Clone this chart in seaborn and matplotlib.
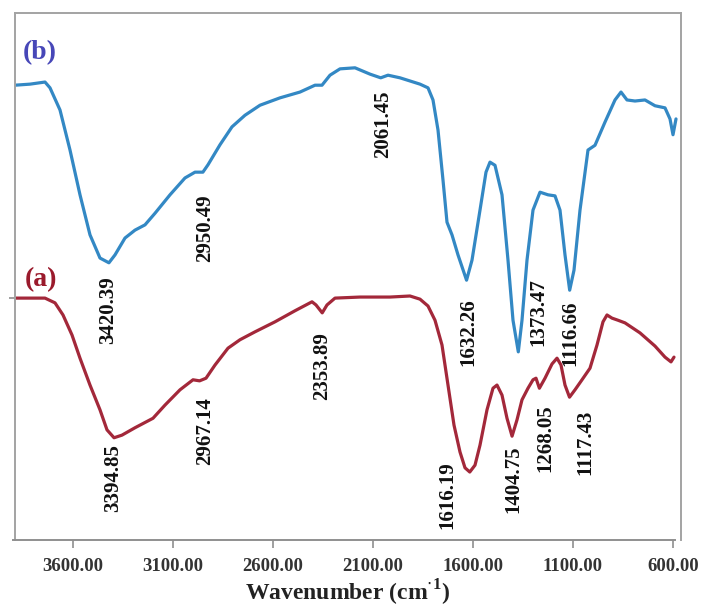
import matplotlib
matplotlib.use("Agg")
import matplotlib.pyplot as plt
import numpy as np
import pandas as pd
import seaborn as sns

# FTIR spectrum (b): wavenumber (cm-1) and transmittance (%)
wn_b = [3890, 3815, 3740, 3715, 3665, 3615, 3565, 3515, 3465, 3420.39, 3390, 3340,
        3290, 3240, 3190, 3115, 3040, 2990, 2950.49, 2925, 2865, 2805, 2740, 2665,
        2565, 2465, 2390, 2355, 2315, 2265, 2190, 2115, 2061.45, 2025, 1965, 1865,
        1825, 1800, 1775, 1750, 1730, 1705, 1675, 1632.26, 1605, 1565, 1535, 1515,
        1490, 1455, 1425, 1400, 1373.47, 1355, 1330, 1300, 1265, 1225, 1190, 1165,
        1140, 1116.66, 1095, 1065, 1025, 990, 940, 890, 860, 830, 790, 740, 690,
        640, 615, 600, 585]
tr_b = [86.3, 86.5, 86.9, 85.8, 81.6, 74.0, 65.5, 57.9, 53.5, 52.6, 54.1, 57.3,
        58.8, 59.8, 62.0, 65.5, 68.7, 69.8, 69.8, 71.2, 75.0, 78.4, 80.6, 82.5,
        83.9, 85.0, 86.3, 86.3, 88.2, 89.4, 89.6, 88.4, 87.7, 88.2, 87.7, 86.5,
        85.8, 83.5, 77.8, 68.3, 60.3, 57.9, 54.1, 49.3, 53.1, 62.6, 69.8, 71.7,
        71.1, 65.5, 53.1, 41.7, 35.7, 41.7, 53.1, 62.6, 66.0, 65.5, 65.3, 62.6,
        54.1, 47.4, 51.2, 62.6, 74.0, 74.9, 79.3, 83.5, 85.0, 83.5, 83.3, 83.5, 82.4,
        82.0, 79.9, 76.9, 79.9]

# FTIR spectrum (a)
wn_a = [3890, 3740, 3690, 3650, 3605, 3565, 3515, 3465, 3430, 3394.85, 3355, 3290,
        3200, 3140, 3065, 3000, 2967.14, 2935, 2890, 2825, 2765, 2690, 2590, 2490,
        2405, 2385, 2353.89, 2330, 2290, 2165, 2015, 1915, 1865, 1825, 1790, 1755,
        1725, 1695, 1665, 1640, 1616.19, 1590, 1565, 1530, 1500, 1480, 1455, 1430,
        1404.75, 1380, 1355, 1325, 1300, 1285, 1268.05, 1240, 1205, 1180, 1160, 1140,
        1117.43, 1090, 1055, 1015, 980, 950, 930, 905, 875, 840, 765, 690, 640, 610, 595]
tr_a = [45.9, 45.9, 45.0, 42.7, 38.9, 34.5, 29.4, 24.7, 20.9, 19.4, 19.9, 21.3,
        23.1, 25.6, 28.5, 30.4, 30.2, 30.7, 33.2, 36.4, 38.0, 39.5, 41.4, 43.5,
        45.2, 44.6, 43.1, 44.6, 45.9, 46.1, 46.1, 46.3, 45.7, 44.4, 41.7, 37.0,
        29.4, 21.8, 16.7, 13.7, 12.9, 14.2, 18.0, 24.7, 28.8, 29.4, 27.5, 23.1,
        19.7, 22.8, 26.6, 28.8, 30.4, 30.7, 28.8, 30.7, 33.4, 34.5, 33.2, 29.4,
        27.1, 28.5, 30.4, 32.6, 37.0, 41.4, 42.7, 42.1, 41.7, 41.2, 39.3, 36.8, 34.7,
        33.8, 34.7]

# peak annotations
peaks_b = ["3420.39", "2950.49", "2061.45", "1632.26", "1373.47", "1116.66"]
peaks_a = ["3394.85", "2967.14", "2353.89", "1616.19", "1404.75", "1268.05", "1117.43"]
tick_values = [3600, 3100, 2600, 2100, 1600, 1100, 600]

# label anchor points (wavenumber, transmittance) for the rotated annotations
pos_b = [(3425, 43.6), (2940, 59.2), (2050, 78.9), (1625, 39.5), (1275, 43.3), (1115, 39.3)]
pos_a = [(3400, 11.8), (2940, 20.7), (2355, 33.0), (1730, 8.5), (1400, 11.6),
         (1240, 19.4), (1040, 18.6)]

sns.set_theme(style="white")
plt.rcParams["font.family"] = ["Liberation Serif", "DejaVu Serif"]
plt.rcParams["mathtext.fontset"] = "custom"
plt.rcParams["mathtext.rm"] = "Liberation Serif:bold"
plt.rcParams["mathtext.bf"] = "Liberation Serif:bold"

BLUE = "#3388c4"
RED = "#a3283a"
GRAY = "#a3a3a3"

fig = plt.figure(figsize=(7.03, 6.08), dpi=100)
ax = fig.add_axes([15 / 703, 68 / 608, 666 / 703, 527 / 608])

df_b = pd.DataFrame({"wavenumber": wn_b, "T": tr_b})
df_a = pd.DataFrame({"wavenumber": wn_a, "T": tr_a})
sns.lineplot(data=df_b, x="wavenumber", y="T", ax=ax, color=BLUE, lw=2.3, estimator=None,
             solid_joinstyle="round", solid_capstyle="round")
sns.lineplot(data=df_a, x="wavenumber", y="T", ax=ax, color=RED, lw=2.3, estimator=None,
             solid_joinstyle="round", solid_capstyle="round")

ax.set_xlim(3890, 560)
ax.set_ylim(0, 100)

for txt, (x, y) in zip(peaks_b, pos_b):
    ax.text(x, y, txt, rotation=90, ha="center", va="center", fontsize=15,
            fontweight="bold", color="#111111")
for txt, (x, y) in zip(peaks_a, pos_a):
    ax.text(x, y, txt, rotation=90, ha="center", va="center", fontsize=15,
            fontweight="bold", color="#111111")

ax.text(0.012, 0.925, "(b)", transform=ax.transAxes, fontsize=20, fontweight="bold",
        color="#4747b8", ha="left", va="center")
ax.text(0.014, 0.495, "(a)", transform=ax.transAxes, fontsize=20, fontweight="bold",
        color="#9a1a2c", ha="left", va="center")

for side in ["left", "top", "right"]:
    ax.spines[side].set_color(GRAY)
    ax.spines[side].set_linewidth(1.4)
ax.spines["bottom"].set_color("#8f8f8f")
ax.spines["bottom"].set_linewidth(1.4)
ax.spines["bottom"].set_bounds(3900, 590)

ax.set_xticks(tick_values)
ax.set_xticklabels([f"{v:.2f}" for v in tick_values], fontsize=13.5,
                   fontweight="bold", color="#333333")
ax.tick_params(axis="x", direction="out", length=6, width=1.2, color="#8f8f8f", pad=7,
               bottom=True)
ax.set_yticks([45.9])
ax.set_yticklabels([])
ax.tick_params(axis="y", direction="out", length=4, width=1.2, color="#8f8f8f", left=True)

ax.set_xlabel("Wavenumber (cm$^{\\mathsf{\\cdot}1}$)", fontsize=17, fontweight="bold",
              color="#222222", labelpad=2)
ax.set_ylabel("")

fig.savefig("out.png", dpi=100)
